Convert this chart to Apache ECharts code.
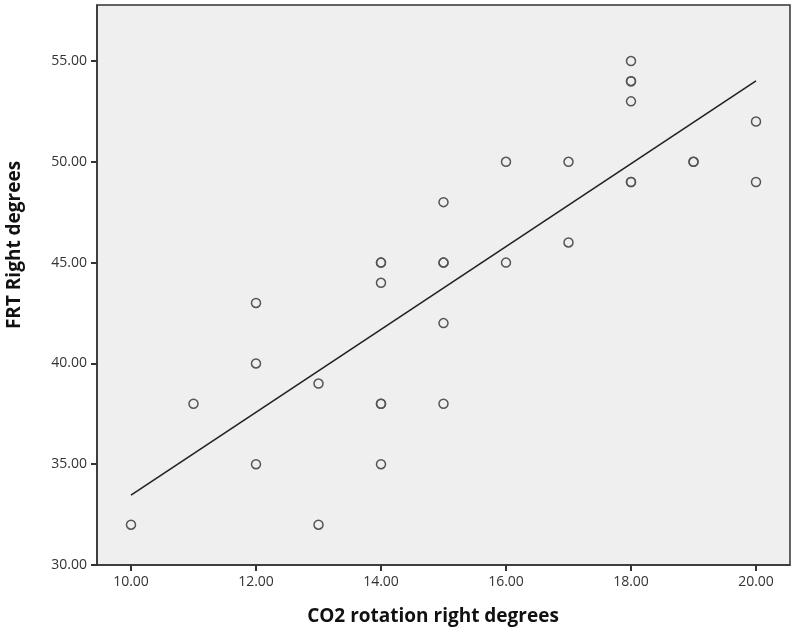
<!DOCTYPE html>
<html>
<head>
<meta charset="utf-8">
<script src="https://cdn.jsdelivr.net/npm/echarts@6/dist/echarts.min.js"></script>
<style>
  html, body { margin: 0; padding: 0; background: #fff; }
  #chart { width: 800px; height: 636px; }
</style>
</head>
<body>
<div id="chart"></div>
<script>
// CO2 rotation right (x) vs FRT right (y), repeated pairs are listed twice
var co2 = [10, 11, 12, 12, 12, 13, 13, 14, 14, 14, 14, 14, 14, 15, 15, 15, 15, 15, 16, 16, 17, 17, 18, 18, 18, 18, 18, 18, 19, 19, 20, 20]
var frt = [32, 38, 43, 40, 35, 39, 32, 45, 45, 44, 38, 38, 35, 48, 45, 45, 42, 38, 50, 45, 50, 46, 55, 54, 54, 53, 49, 49, 50, 50, 52, 49]
// fitted line ends
var fitX = [10, 20]
var fitY = [33.47, 54.02]
var xTicks = [10, 12, 14, 16, 18, 20]
var yTicks = [30, 35, 40, 45, 50, 55]

var points = co2.map(function (x, i) { return [x, frt[i]] })
var fitLine = fitX.map(function (x, i) { return [x, fitY[i]] })

var myChart = echarts.init(document.getElementById('chart'))
var labelStyle = {
  color: '#333',
  fontSize: 14,
  fontFamily: 'Open Sans',
  formatter: function (v) { return v.toFixed(2) }
}
var titleStyle = {
  fill: '#111',
  fontFamily: 'Open Sans',
  fontWeight: 'bold',
  fontSize: 19,
  align: 'center',
  verticalAlign: 'middle'
}
var option = {
  animation: false,
  grid: {
    left: 97,
    right: 10,
    top: 5,
    bottom: 71,
    show: true,
    backgroundColor: '#efefef',
    borderColor: '#333',
    borderWidth: 1.5
  },
  graphic: [{
    type: 'text',
    x: 433,
    y: 617,
    style: Object.assign({ text: 'CO2 rotation right degrees' }, titleStyle)
  }, {
    type: 'text',
    x: 15,
    y: 245,
    rotation: Math.PI / 2,
    style: Object.assign({ text: 'FRT Right degrees' }, titleStyle)
  }],
  xAxis: {
    type: 'value',
    min: 9.456,
    max: 20.544,
    splitLine: { show: false },
    axisLine: { lineStyle: { color: '#333', width: 1.5 } },
    axisTick: { length: 6, lineStyle: { color: '#333', width: 2 }, customValues: xTicks },
    axisLabel: Object.assign({ margin: 10, customValues: xTicks }, labelStyle)
  },
  yAxis: {
    type: 'value',
    min: 30,
    max: 57.78,
    splitLine: { show: false },
    axisLine: { lineStyle: { color: '#333', width: 1.5 } },
    axisTick: { length: 6, lineStyle: { color: '#333', width: 2 }, customValues: yTicks },
    axisLabel: Object.assign({ margin: 10, customValues: yTicks }, labelStyle)
  },
  series: [{
    type: 'line',
    data: fitLine,
    symbol: 'none',
    lineStyle: { color: '#222', width: 1.6 },
    z: 2
  }, {
    type: 'scatter',
    data: points,
    symbol: 'circle',
    symbolSize: 9,
    itemStyle: { color: 'rgba(0,0,0,0)', borderColor: '#555', borderWidth: 1.5, opacity: 1 },
    z: 3
  }]
}
myChart.setOption(option)
window.addEventListener('resize', function () {
  myChart.resize()
})
</script>
</body>
</html>
